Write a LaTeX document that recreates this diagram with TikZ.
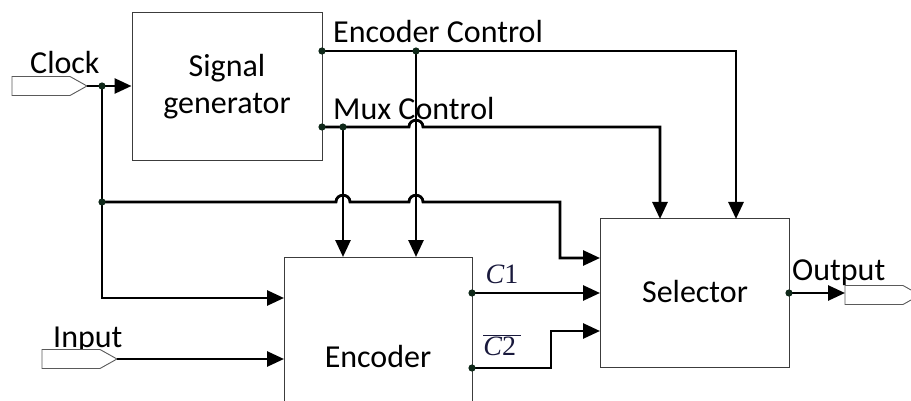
\documentclass[tikz,border=0pt]{standalone}
\usepackage{fontspec}
\setmainfont{Carlito}
\newfontfamily\cfont{Liberation Serif}
\usetikzlibrary{arrows.meta}
\definecolor{dotc}{RGB}{15,40,25}
\definecolor{boxc}{RGB}{60,60,60}
\definecolor{portc}{RGB}{90,90,90}
\definecolor{mathc}{RGB}{25,25,60}
\begin{document}
\begin{tikzpicture}[x=1pt,y=-1pt,
  box/.style={draw=boxc, line width=1pt, inner sep=0pt},
  port/.style={draw=portc, line width=0.9pt, fill=white},
  wire/.style={line width=2.8pt, line join=miter},
  arr/.style={-{Triangle[length=17pt,width=15pt]}},
  lbl/.style={inner sep=0pt, font=\fontsize{32}{38}\selectfont, anchor=base west},
  clbl/.style={inner sep=0pt, font=\fontsize{32}{38}\selectfont, anchor=base},
  mlbl/.style={inner sep=0pt, text=mathc, font=\cfont\fontsize{28}{32}\selectfont, anchor=base},
  dot/.style={fill=dotc}
]
\useasboundingbox (0,0) rectangle (911,401);
\clip (0,0) rectangle (911,401);

% boxes
\node[box, minimum width=190pt, minimum height=148pt] (sg) at (227,87) {};
\node[box, minimum width=188pt, minimum height=173pt] (enc) at (378,343.5) {};
\node[box, minimum width=189pt, minimum height=148pt] (sel) at (694.5,293) {};

% box texts
\node[clbl] (sgt1) at (227,77) {Signal};
\node[clbl] (sgt2) at (227,114) {generator};
\node[clbl] (enct) at (378,367) {Encoder};
\node[clbl] (selt) at (695,302) {Selector};

% labels
\node[lbl] (clk) at (30,74) {Clock};
\node[lbl] (ectl) at (333,43) {Encoder Control};
\node[lbl] (mctl) at (333,120) {Mux Control};
\node[lbl] (inpl) at (53,347) {Input};
\node[lbl] (outl) at (792,280) {Output};
\node[mlbl] (c1l) at (502,283) {\itshape C\upshape 1};
\node[mlbl] (c2l) at (502,355) {$\overline{\hbox{\itshape C\upshape 2\,}}$};

% ports
\coordinate (clktip) at (87,86);
\draw[port] (12,76.5) -- (70,76.5) -- (clktip) -- (70,95.5) -- (12,95.5) -- cycle;
\coordinate (inptip) at (117,359);
\draw[port] (42,349.5) -- (100,349.5) -- (inptip) -- (100,368.5) -- (42,368.5) -- cycle;
\coordinate (outtip) at (845,293);
\draw[port] (845,285.5) -- (903,285.5) -- (920,295) -- (903,304.5) -- (845,304.5) -- cycle;

% junctions and pins
\coordinate (j1) at (102,86);
\coordinate (j2) at (102,202);
\coordinate (sgo1) at (322,51);
\coordinate (j3) at (416,51);
\coordinate (sgo2) at (322,127);
\coordinate (j4) at (343,127);
\coordinate (eo1) at (472,293);
\coordinate (eo2) at (472,368);
\coordinate (so) at (789,293);
\coordinate (encin1) at (284,298);
\coordinate (encin2) at (343,257);
\coordinate (encin3) at (416,257);
\coordinate (encin4) at (284,359);
\coordinate (selin1) at (600,258);
\coordinate (selin2) at (600,293);
\coordinate (selin3) at (660,219);
\coordinate (selin4) at (736,219);
\coordinate (selin5) at (600,331);
\coordinate (bend1) at (560,202);
\coordinate (bend2) at (551,368);

% wires
\draw[wire,arr] (clktip) -- (sg.west |- clktip);
\draw[wire,arr] (j1) |- (encin1);
\draw[wire,arr] (j2) -- (336,202) .. controls (336,193) and (350,193) .. (350,202)
  -- (409,202) .. controls (409,193) and (423,193) .. (423,202) -- (bend1) |- (selin1);
\draw[wire,arr] (sgo1) -| (selin4);
\draw[wire,arr] (j3) -- (encin3);
\draw[wire,arr] (sgo2) -- (409,127) .. controls (409,118) and (423,118) .. (423,127) -| (selin3);
\draw[wire,arr] (j4) -- (encin2);
\draw[wire,arr] (inptip) -- (encin4);
\draw[wire,arr] (eo1) -- (selin2);
\draw[wire,arr] (eo2) -- (bend2) |- (selin5);
\draw[wire,arr] (so) -- (outtip);

% dots
\foreach \p in {j1,j2,sgo1,j3,sgo2,j4,eo1,eo2,so}
  \fill[dot] (\p) circle (3.6pt);
\end{tikzpicture}
\end{document}
